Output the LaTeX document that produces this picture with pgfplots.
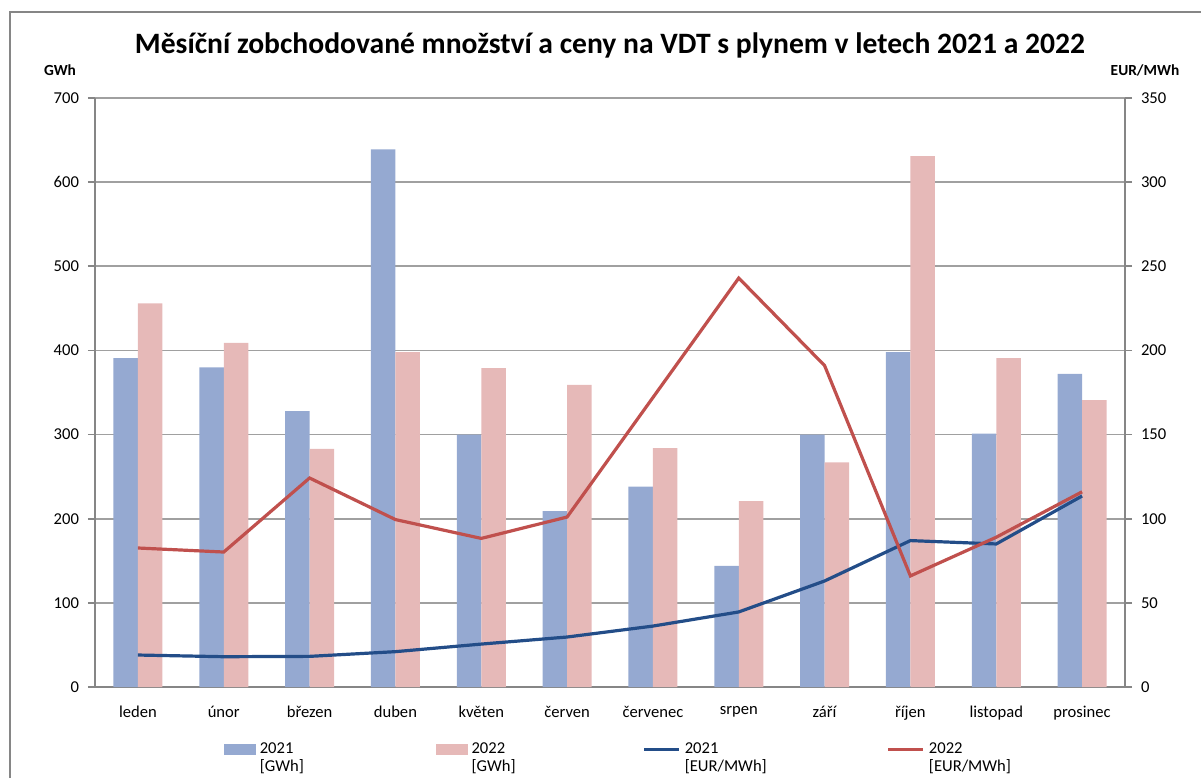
\documentclass[border=0pt]{standalone}
\usepackage{fontspec}
\setmainfont{Carlito}
\usepackage{pgfplots}
\pgfplotsset{compat=1.18}

\definecolor{bar21}{RGB}{149,169,209}
\definecolor{bar22}{RGB}{230,185,184}
\definecolor{line21}{RGB}{35,77,136}
\definecolor{line22}{RGB}{192,80,77}
\definecolor{gridc}{RGB}{160,160,160}
\definecolor{axisc}{RGB}{134,134,134}

% 1 px of the reference = 0.5pt
\begin{document}
\begin{tikzpicture}
\useasboundingbox (0,0) rectangle (600.5pt,389pt);
\draw[axisc, line width=1pt] (5pt,0) -- (5pt,383pt) -- (600.5pt,383pt);

\node[font=\fontsize{14.8}{17}\selectfont\bfseries] at (305pt,366.5pt)
  {Měsíční zobchodované množství a ceny na VDT s plynem v letech 2021 a 2022};
\node[font=\fontsize{7.7}{9}\selectfont\bfseries] at (30pt,354pt) {GWh};
\node[font=\fontsize{7.7}{9}\selectfont\bfseries] at (572.5pt,354pt) {EUR/MWh};

\pgfplotsset{
  every axis/.append style={
    scale only axis, width=515pt, height=294.5pt,
    at={(47.5pt,45.5pt)}, anchor=south west,
    xmin=-0.5, xmax=11.5,
    font=\fontsize{8.3}{9.5}\selectfont,
    /pgf/number format/assume math mode=true,
    axis line style={axisc, line width=0.8pt},
    tick style={axisc, line width=0.8pt},
    tick align=outside, major tick length=3.5pt,
  },
}

\begin{axis}[
  ymin=0, ymax=700, ytick distance=100,
  ymajorgrids, grid style={gridc, line width=0.8pt},
  axis y line*=left, axis x line*=bottom,
  xtick={0,...,11},
  xticklabels={leden,únor,březen,duben,květen,červen,červenec,srpen,září,říjen,listopad,prosinec},
  xtick style={draw=none},
  xticklabel style={yshift=-2.5pt},
  yticklabel style={xshift=-1pt},
  ybar=0pt, bar width=12.25pt,
]
\addplot[fill=bar21, draw=none] coordinates {
  (0,391) (1,380) (2,328) (3,639) (4,300) (5,209)
  (6,238) (7,144) (8,300) (9,398) (10,301) (11,372)};
\addplot[fill=bar22, draw=none] coordinates {
  (0,456) (1,409) (2,283) (3,398) (4,379) (5,359)
  (6,284) (7,221) (8,267) (9,631) (10,391) (11,341)};
\end{axis}

\begin{axis}[
  ymin=0, ymax=350, ytick distance=50,
  axis y line*=right, axis x line=none,
  yticklabel style={xshift=1pt},
  legend columns=4,
  legend style={draw=none, fill=none, at={(0.549,-0.08)}, anchor=north,
    nodes={text width=82pt, align=left, inner sep=2pt,
      font=\fontsize{8.3}{9}\selectfont},
    /tikz/every even column/.append style={column sep=4pt}},
]
\addlegendimage{legend image code/.code={\fill[bar21] (0pt,-2.5pt) rectangle (15.5pt,2.5pt);}}
\addlegendentry{2021\\{}[GWh]}
\addlegendimage{legend image code/.code={\fill[bar22] (0pt,-2.5pt) rectangle (15.5pt,2.5pt);}}
\addlegendentry[text width=79.5pt]{2022\\{}[GWh]}
\addplot[line21, line width=1.6pt,
  legend image code/.code={\draw[line21, line width=1.6pt] (0pt,0pt) -- (17.5pt,0pt);}] coordinates {
  (0,19) (1,18) (2,18.2) (3,21) (4,25.5) (5,29.7)
  (6,36.2) (7,44.6) (8,63) (9,87) (10,85) (11,113.5)};
\addlegendentry[text width=95pt]{2021\\{}[EUR/MWh]}
\addplot[line22, line width=1.6pt,
  legend image code/.code={\draw[line22, line width=1.6pt] (0pt,0pt) -- (17.5pt,0pt);}] coordinates {
  (0,82.6) (1,80.2) (2,124.2) (3,99.5) (4,88.3) (5,101)
  (6,172) (7,243) (8,191) (9,66) (10,89) (11,116)};
\addlegendentry{2022\\{}[EUR/MWh]}
\end{axis}
\end{tikzpicture}
\end{document}
